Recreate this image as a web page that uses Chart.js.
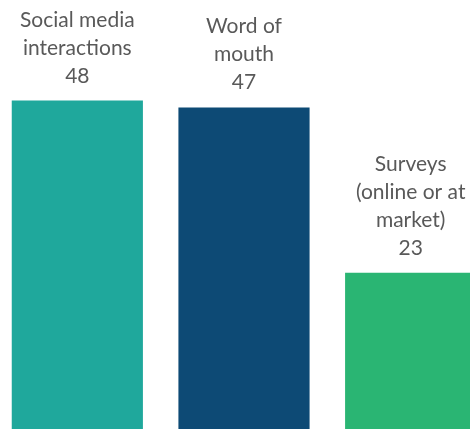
<!DOCTYPE html>
<html lang="en">
<head>
    <meta charset="UTF-8">
    <title>Feedback channels</title>
    <script src="https://cdn.jsdelivr.net/npm/chart.js"></script>
    <style>
        html, body { margin: 0; padding: 0; background: #ffffff; overflow: hidden; }
        .wrap {
            position: absolute;
            left: -6.5px;
            top: 0;
            width: 500px;
            height: 431px;
        }
    </style>
</head>
<body>

<div class="wrap">
    <canvas id="barChart" width="500" height="431"></canvas>
</div>

<script>
    // channel names (one entry per line of text) and counts
    const channels = [
        ['Social media', 'interactions'],
        ['Word of', 'mouth'],
        ['Surveys', '(online or at', 'market)']
    ];
    const counts = [48, 47, 23];
    const barColors = ['#1fa89c', '#0d4a75', '#2ab573'];

    // name + value written above each bar
    const topLabels = {
        id: 'topLabels',
        afterDatasetsDraw(chart) {
            const ctx = chart.ctx;
            const meta = chart.getDatasetMeta(0);
            ctx.save();
            ctx.fillStyle = '#595959';
            ctx.font = '21px Lato, "Liberation Sans", sans-serif';
            ctx.textAlign = 'center';
            ctx.textBaseline = 'alphabetic';
            meta.data.forEach((bar, i) => {
                const lines = channels[i].concat([String(counts[i])]);
                let y = bar.y - 18;
                for (let k = lines.length - 1; k >= 0; k--) {
                    ctx.fillText(lines[k], bar.x, y);
                    y -= 28;
                }
            });
            ctx.restore();
        }
    };

    new Chart(document.getElementById('barChart'), {
        type: 'bar',
        data: {
            labels: channels,
            datasets: [{
                data: counts,
                backgroundColor: barColors,
                borderWidth: 0,
                barPercentage: 0.787,
                categoryPercentage: 1
            }]
        },
        options: {
            responsive: false,
            animation: false,
            layout: { padding: { top: 18, left: 0, right: 0, bottom: 0 } },
            plugins: {
                legend: { display: false },
                tooltip: { enabled: false }
            },
            scales: {
                x: { display: false },
                y: { display: false, min: 0, max: 60 }
            }
        },
        plugins: [topLabels]
    });
</script>

</body>
</html>
